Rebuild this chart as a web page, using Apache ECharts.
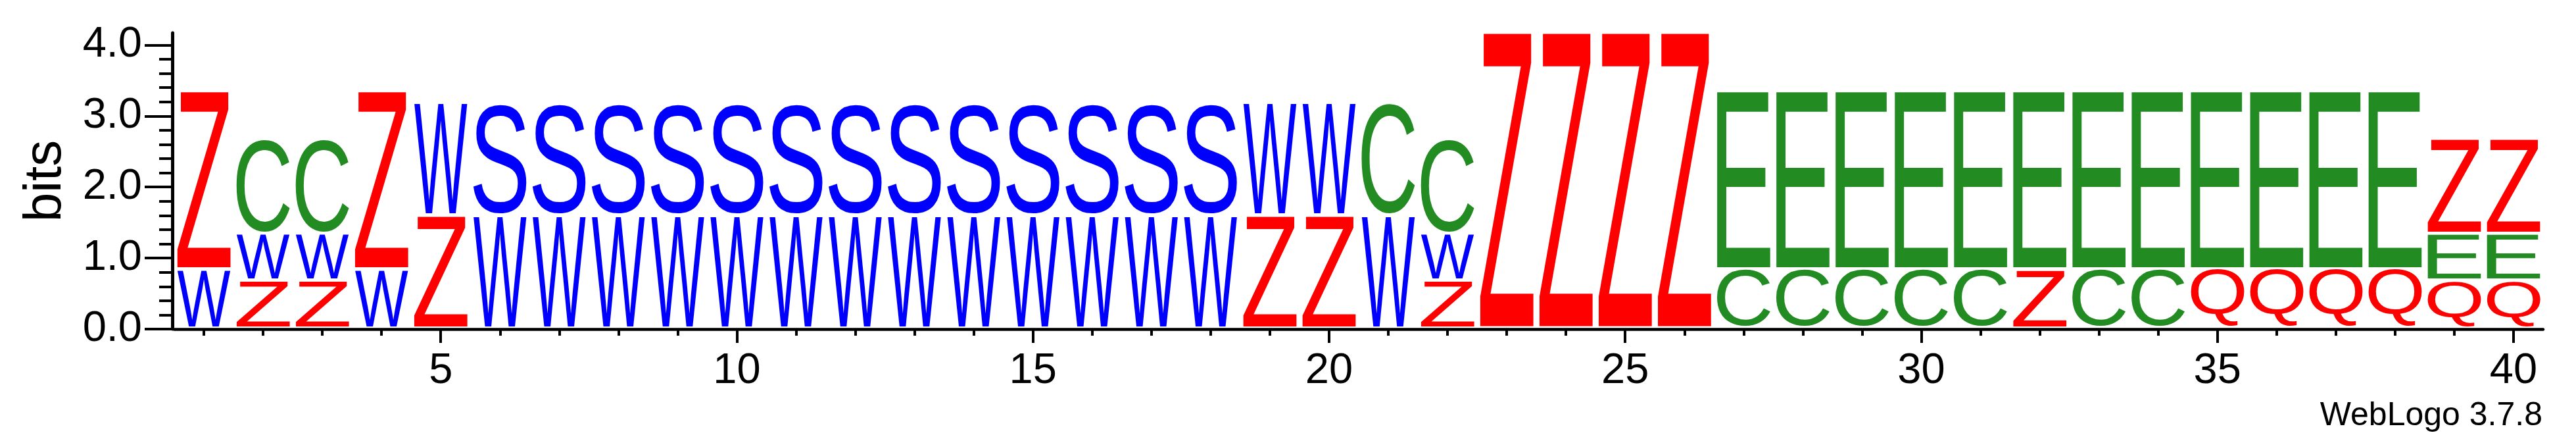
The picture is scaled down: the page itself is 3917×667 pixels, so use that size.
<!DOCTYPE html>
<html>
<head>
<meta charset="UTF-8">
<title>WebLogo</title>
<script src="https://cdn.jsdelivr.net/npm/echarts@6/dist/echarts.min.js"></script>
<style>html,body{margin:0;padding:0;background:#fff;}</style>
</head>
<body>
<div id="charts" style="width:3917px;height:667px"></div>
<script type="text/javascript">
// positions along the alignment
var positions=[1,2,3,4,5,6,7,8,9,10,11,12,13,14,15,16,17,18,19,20,
	21,22,23,24,25,26,27,28,29,30,31,32,33,34,35,36,37,38,39,40];
// letters of each stack, bottom to top
var stackLetters=['WZ','ZWC','ZWC','WZ','ZW',
	'WS','WS','WS','WS','WS','WS','WS','WS','WS','WS','WS','WS','WS',
	'ZW','ZW','WC','ZWC',
	'Z','Z','Z','Z',
	'CE','CE','CE','CE','CE','ZE','CE','CE',
	'QE','QE','QE','QE',
	'QEZ','QEZ'];
// height of each letter in bits, same order
var stackHeights=[[0.83,2.51],[0.67,0.66,1.34],[0.67,0.66,1.34],[0.83,2.51],[1.585,1.58],
	[1.585,1.58],[1.585,1.58],[1.585,1.58],[1.585,1.58],[1.585,1.58],[1.585,1.58],[1.585,1.58],
	[1.585,1.58],[1.585,1.58],[1.585,1.58],[1.585,1.58],[1.585,1.58],[1.585,1.58],
	[1.585,1.58],[1.585,1.58],[1.585,1.58],[0.67,0.66,1.34],
	[4.167],[4.167],[4.167],[4.167],
	[0.83,2.51],[0.83,2.51],[0.83,2.51],[0.83,2.51],[0.83,2.51],[0.83,2.51],[0.83,2.51],[0.83,2.51],
	[0.83,2.51],[0.83,2.51],[0.83,2.51],[0.83,2.51],
	[0.67,0.66,1.34],[0.67,0.66,1.34]];
var xTickLabels=[5,10,15,20,25,30,35,40];
var xMinorTicks=[1,2,3,4,6,7,8,9,11,12,13,14,16,17,18,19,21,22,23,24,26,27,28,29,31,32,33,34,36,37,38,39];
var yTickLabels=[0,1,2,3,4];
var yMinorTicks=[0.2,0.4,0.6,0.8,1.2,1.4,1.6,1.8,2.2,2.4,2.6,2.8,3.2,3.4,3.6,3.8];
var letterColors={Z:'#ff0000',Q:'#ff0000',W:'#0000ff',S:'#0000ff',C:'#228b22',E:'#228b22'};

var FONT="200px 'Liberation Sans'";
var LABEL_FONT='Liberation Sans';

// measure the ink box of every glyph so it can be stretched into its stack box
var metrics={};
var cv=document.createElement('canvas').getContext('2d');
cv.font=FONT;
cv.textAlign='center';
cv.textBaseline='middle';
for(var k in letterColors){
	var mt=cv.measureText(k);
	metrics[k]={l:mt.actualBoundingBoxLeft,r:mt.actualBoundingBoxRight,
		a:mt.actualBoundingBoxAscent,d:mt.actualBoundingBoxDescent};
}

var items=[];
var seriesData=[];
for(var i=0;i<positions.length;i++){
	var base=0;
	for(var j=0;j<stackLetters[i].length;j++){
		var h=stackHeights[i][j];
		items.push(stackLetters[i].charAt(j));
		seriesData.push([positions[i],base,base+h]);
		base+=h;
	}
}

function renderLetter(params,api){
	var ch=items[params.dataIndex];
	var m=metrics[ch];
	var pos=api.value(0);
	var cx=api.coord([pos,0])[0];
	var w=api.size([1,0])[0]*0.9;
	var top=api.coord([pos,api.value(2)])[1];
	var bot=api.coord([pos,api.value(1)])[1]-4.5;
	var sx=w/(m.l+m.r);
	var sy=(bot-top)/(m.a+m.d);
	return {
		type:'text',
		x:cx-w/2+m.l*sx,
		y:top+m.a*sy,
		scaleX:sx,
		scaleY:sy,
		style:{text:ch,font:FONT,fill:letterColors[ch],textAlign:'center',textVerticalAlign:'middle'}
	};
}

var gridBox={left:265,right:50,top:50,bottom:167};
var mychart=echarts.init(document.getElementById('charts'));
var option={
	backgroundColor:'#ffffff',
	animation:false,
	grid:[
		{left:gridBox.left,right:gridBox.right,top:gridBox.top,bottom:gridBox.bottom},
		{left:gridBox.left,right:gridBox.right,top:gridBox.top,bottom:gridBox.bottom}
	],
	xAxis:[{
		type:'value',gridIndex:0,min:0.5,max:40.5,
		axisLine:{show:true,lineStyle:{color:'#000',width:4.5}},
		axisTick:{show:true,customValues:xTickLabels,length:21,lineStyle:{color:'#000',width:4}},
		axisLabel:{show:true,customValues:xTickLabels,margin:32,color:'#000',
			fontSize:65,fontFamily:LABEL_FONT},
		splitLine:{show:false}
	},{
		type:'value',gridIndex:1,min:0.5,max:40.5,
		axisLine:{show:false},
		axisTick:{show:true,customValues:xMinorTicks,length:10,lineStyle:{color:'#000',width:4}},
		axisLabel:{show:false},
		splitLine:{show:false}
	}],
	yAxis:[{
		type:'value',gridIndex:0,min:0,max:4.17,offset:3,
		name:'bits',nameLocation:'middle',nameRotate:90,nameGap:152,
		nameTextStyle:{color:'#000',fontSize:80,fontFamily:LABEL_FONT},
		axisLine:{show:true,lineStyle:{color:'#000',width:5}},
		axisTick:{show:true,customValues:yTickLabels,length:42,lineStyle:{color:'#000',width:4}},
		axisLabel:{show:true,customValues:yTickLabels,margin:46,color:'#000',
			fontSize:65,fontFamily:LABEL_FONT,
			formatter:function(v){return v.toFixed(1);}},
		splitLine:{show:false}
	},{
		type:'value',gridIndex:1,min:0,max:4.17,offset:3,
		axisLine:{show:false},
		axisTick:{show:true,customValues:yMinorTicks,length:20,lineStyle:{color:'#000',width:4}},
		axisLabel:{show:false},
		splitLine:{show:false}
	}],
	graphic:[{
		type:'text',x:3866,y:632,
		style:{text:'WebLogo 3.7.8',font:"50px 'Liberation Sans'",fill:'#000',
			textAlign:'right',textVerticalAlign:'middle'}
	}],
	series:[{
		type:'custom',
		xAxisIndex:0,yAxisIndex:0,
		silent:true,
		renderItem:renderLetter,
		encode:{x:0,y:[1,2]},
		data:seriesData
	}]
};
mychart.setOption(option);
</script>
</body>
</html>
